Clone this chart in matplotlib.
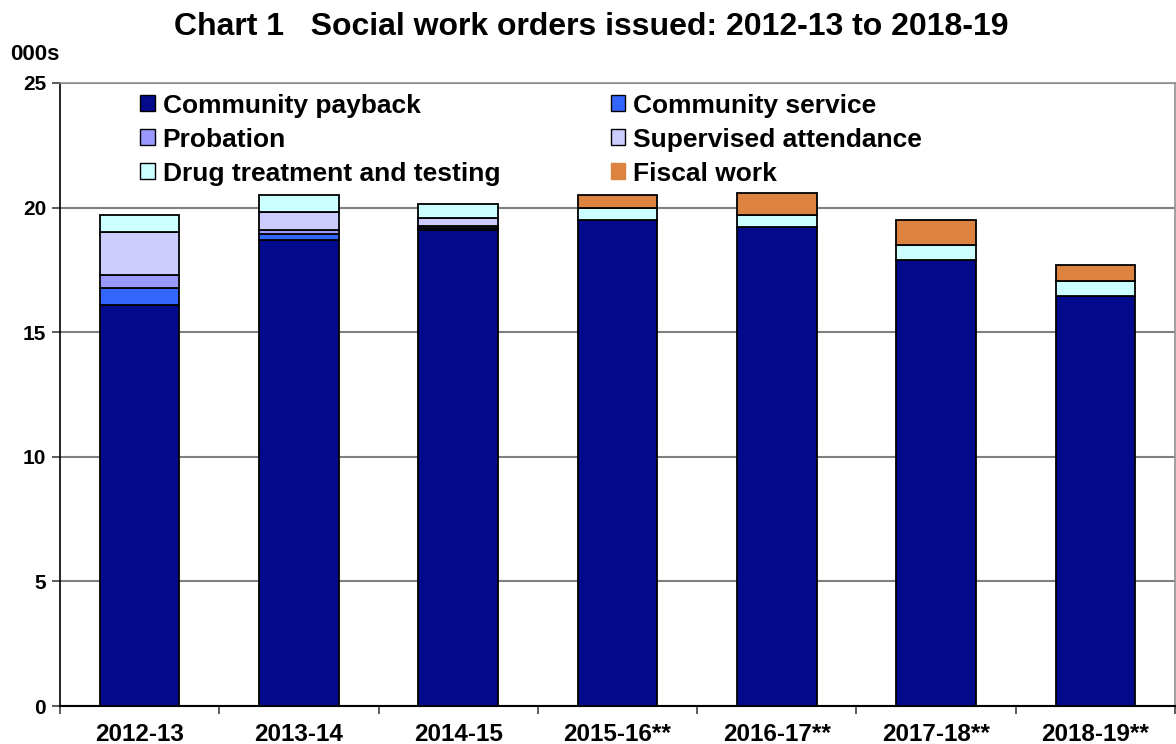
import numpy as np
import matplotlib.pyplot as plt
from matplotlib.patches import Patch

plt.rcParams['font.family'] = ['Liberation Sans', 'DejaVu Sans']
plt.rcParams['font.weight'] = 'bold'

years = ['2012-13', '2013-14', '2014-15', '2015-16**', '2016-17**', '2017-18**', '2018-19**']

# thousands of orders
community_payback = [16.09, 18.70, 19.10, 19.49, 19.23, 17.90, 16.45]
community_service = [0.70, 0.24, 0.09, 0.0, 0.0, 0.0, 0.0]
probation = [0.51, 0.16, 0.07, 0.0, 0.0, 0.0, 0.0]
supervised_attendance = [1.73, 0.74, 0.31, 0.0, 0.0, 0.0, 0.0]
drug_treatment = [0.67, 0.65, 0.56, 0.48, 0.46, 0.59, 0.59]
fiscal_work = [0.0, 0.0, 0.0, 0.54, 0.88, 1.00, 0.65]

series = [
    ('Community payback', community_payback, '#030A8C'),
    ('Community service', community_service, '#3366FF'),
    ('Probation', probation, '#9999FF'),
    ('Supervised attendance', supervised_attendance, '#CCCCFF'),
    ('Drug treatment and testing', drug_treatment, '#CCFFFF'),
    ('Fiscal work', fiscal_work, '#DC843F'),
]

fig = plt.figure(figsize=(11.76, 7.44), dpi=100)
ax = fig.add_axes([60/1176, 1-706/744, 1115/1176, 623/744])

x = np.arange(len(years))
bottom = np.zeros(len(years))
for name, vals, col in series:
    vals = np.array(vals)
    mask = vals > 0
    ax.bar(x[mask], vals[mask], bottom=bottom[mask], width=0.5, color=col,
           edgecolor='black', linewidth=1.3, zorder=3)
    bottom += vals

ax.set_xlim(-0.5, len(years) - 0.5)
ax.set_ylim(0, 25)
ax.set_yticks([0, 5, 10, 15, 20, 25])
ax.set_yticklabels(['0', '5', '10', '15', '20', '25'], fontsize=15, fontweight='bold')
ax.set_xticks(x)
ax.set_xticklabels(years, fontsize=17.5, fontweight='bold')
ax.tick_params(axis='x', length=0, pad=12)
ax.set_xticks(np.arange(-0.5, len(years), 1), minor=True)
ax.tick_params(axis='x', which='minor', length=6, width=1.2, color='#404040', direction='out')
ax.tick_params(axis='y', length=6, width=1.2, color='#404040', pad=4)

ax.grid(axis='y', color='#808080', linewidth=1.5, zorder=0)
ax.set_axisbelow(True)
for s in ['top', 'right']:
    ax.spines[s].set_color('#909090')
    ax.spines[s].set_linewidth(1.2)
ax.spines['left'].set_color('black')
ax.spines['left'].set_linewidth(1.2)
ax.spines['bottom'].set_color('black')
ax.spines['bottom'].set_linewidth(1.5)

# legend filled row-wise
handles = [Patch(facecolor=c, edgecolor='black' if n != 'Fiscal work' else c, linewidth=1.0, label=n)
           for n, v, c in series]
order = [0, 2, 4, 1, 3, 5]
ax.legend([handles[i] for i in order], [handles[i].get_label() for i in order],
          ncol=2, loc='upper left', bbox_to_anchor=(0.060, 1.004), frameon=False,
          borderpad=0, prop={'size': 19, 'weight': 'bold'}, handlelength=0.55, handleheight=0.55,
          handletextpad=0.3, columnspacing=4.2, labelspacing=0.38)

fig.text(591/1176, 1-27/744, 'Chart 1   Social work orders issued: 2012-13 to 2018-19',
         ha='center', va='center', fontsize=23, fontweight='bold')
fig.text(10/1176, 1-55/744, '000s', ha='left', va='center', fontsize=16, fontweight='bold')

plt.savefig('out.png', dpi=100)
